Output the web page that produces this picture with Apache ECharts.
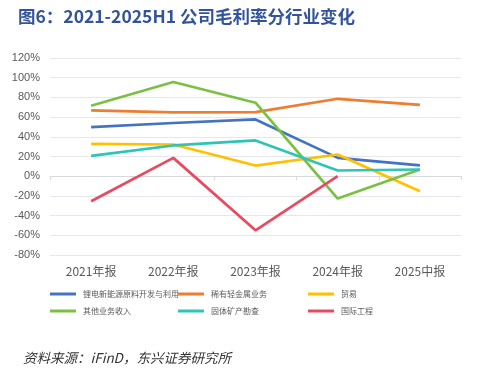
<!DOCTYPE html>
<html><head><meta charset="utf-8">
<script src="https://cdn.jsdelivr.net/npm/echarts@6/dist/echarts.min.js"></script>
<style>html,body{margin:0;padding:0;background:#fff}#c{width:480px;height:368px}</style>
</head><body><div id="c"></div>
<script>
const categories = ['2021年报','2022年报','2023年报','2024年报','2025中报'];
const yTicks = [-80,-60,-40,-20,0,20,40,60,80,100,120];
const names = ['锂电新能源原料开发与利用','稀有轻金属业务','贸易','其他业务收入','固体矿产勘查','国际工程'];
const liDian = [49.8, 54, 57.6, 18.6, 11];
const xiYou = [66.8, 64.7, 65, 78.6, 72.5];
const maoYi = [32.9, 32.2, 10.8, 22, -15.3];
const qiTa = [71.5, 95.6, 74.6, -22.7, 6.8];
const guTi = [20.7, 31.2, 36.3, 5.8, 6.8];
const guoJi = [-25.4, 18.6, -54.9, 0, null];
const colors = ['#4472C4','#ED7D31','#FFC000','#7AC143','#2EC4B6','#E84A5F'];
const seriesData = [liDian, xiYou, maoYi, qiTa, guTi, guoJi];

const chart = echarts.init(document.getElementById('c'));
const legendBase = {orient:'vertical', top:290, itemWidth:26, itemHeight:3, itemGap:9, padding:0,
  textStyle:{fontSize:8, color:'#595959', fontFamily:'Noto Sans CJK SC', padding:[0,0,0,2]}, icon:'rect'};
chart.setOption({
  animation:false,
  title:[{text:'图6：2021-2025H1 公司毛利率分行业变化', left:13, top:3,
    textStyle:{fontSize:17.5, fontWeight:'bold', color:'#33549B', fontFamily:'Noto Sans CJK SC'}},
    {text:'资料来源：iFinD，东兴证券研究所', left:18, top:346,
    textStyle:{fontSize:13.5, fontWeight:'normal', fontStyle:'italic', color:'#333', fontFamily:'Noto Sans CJK SC'}}],
  legend:[
    Object.assign({left:50, data:[names[0], names[3]]}, legendBase),
    Object.assign({left:178, data:[names[1], names[4]]}, legendBase),
    Object.assign({left:308, data:[names[2], names[5]]}, legendBase)
  ],
  grid:{left:50, right:19, top:58, bottom:113},
  xAxis:[
    {type:'category', data:categories, position:'bottom', axisLine:{show:false, onZero:false}, axisTick:{show:false},
     axisLabel:{fontSize:12, color:'#595959', margin:10, fontFamily:'Noto Sans CJK SC'}},
    {type:'category', data:categories, position:'top', axisLine:{show:true, onZero:true, lineStyle:{color:'#D9D9D9'}},
     axisTick:{show:true, inside:true, length:4, lineStyle:{color:'#D9D9D9'}}, axisLabel:{show:false}}
  ],
  yAxis:{type:'value', min:yTicks[0], max:yTicks[yTicks.length-1], interval:20,
    axisLine:{show:false}, axisTick:{show:false},
    splitLine:{lineStyle:{color:'#E4E7EE'}},
    axisLabel:{formatter:'{value}%', fontSize:11, color:'#595959', margin:10}},
  series: names.map((n,i)=>({name:n, type:'line', data:seriesData[i], symbol:'none',
    lineStyle:{width:2.7, color:colors[i]}, itemStyle:{color:colors[i]}, xAxisIndex:0}))
});
</script></body></html>
